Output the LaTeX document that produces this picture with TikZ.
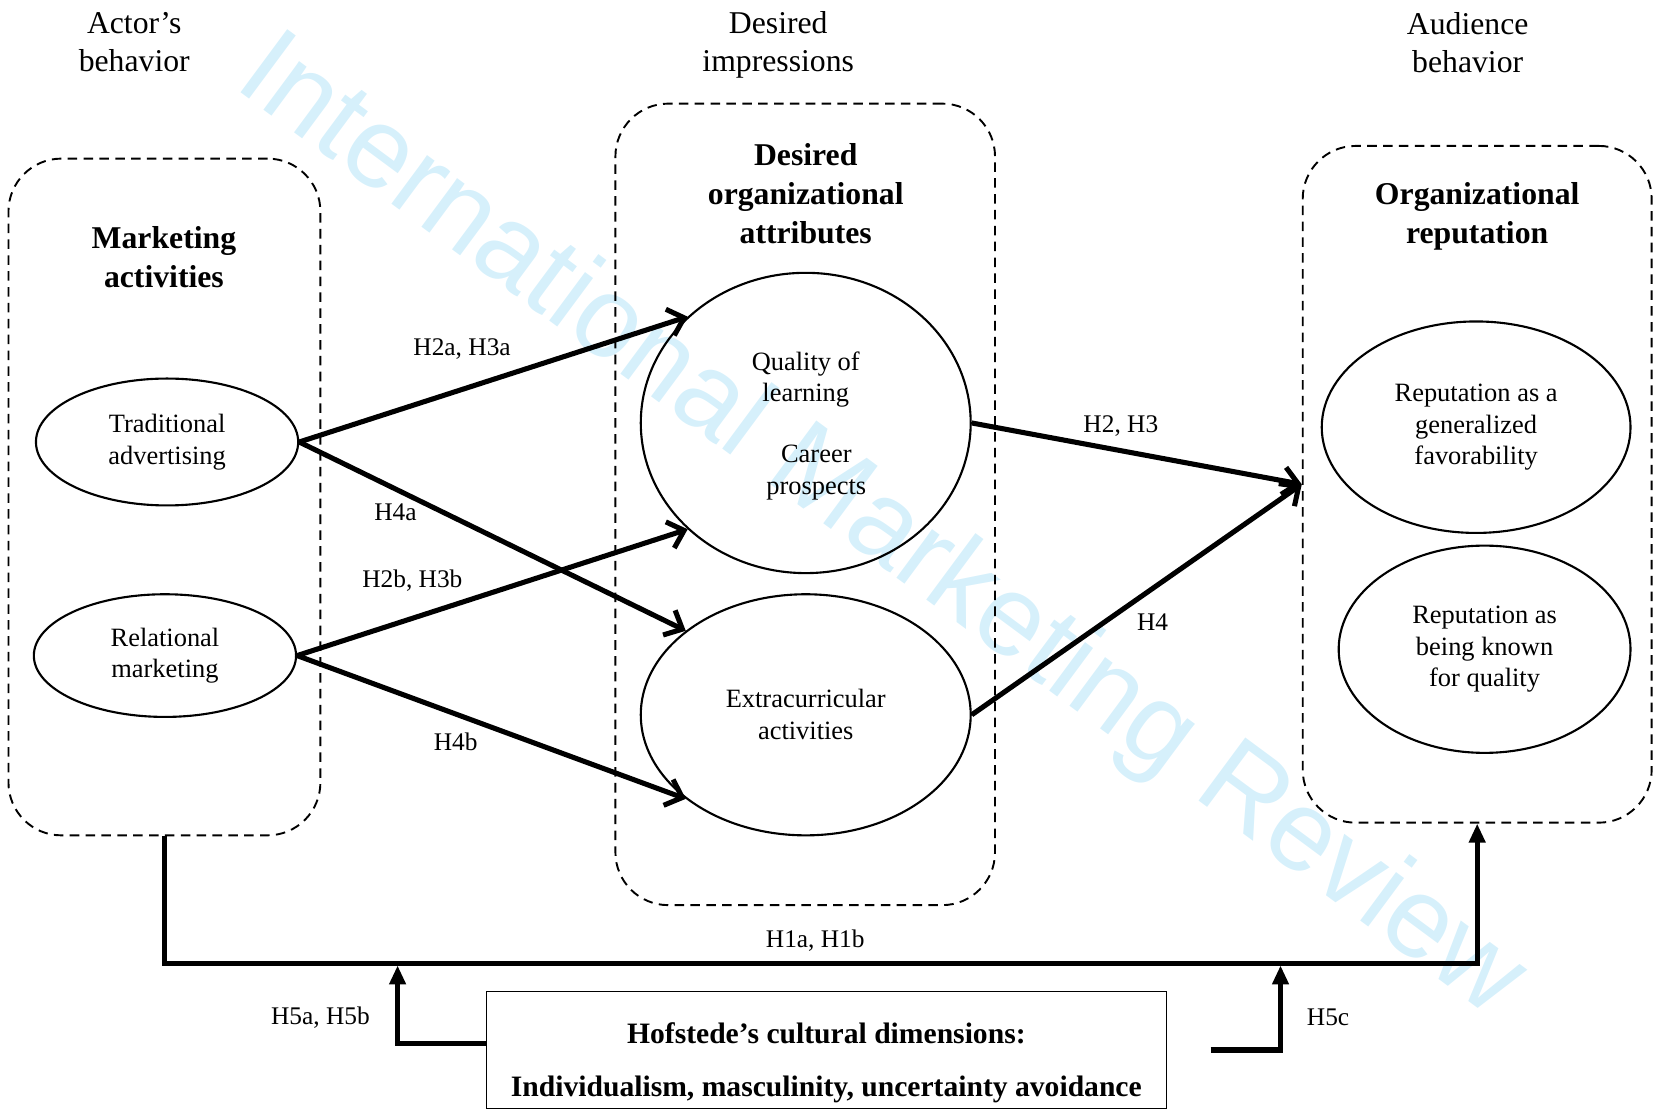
\documentclass[tikz,border=0pt]{standalone}
\usepackage{fontspec}
\setmainfont{Liberation Serif}
\newfontfamily\wmfont{Liberation Sans}
\usepackage{tikz}
\usetikzlibrary{arrows.meta, shapes.geometric}
\definecolor{wmblue}{RGB}{214,240,251}

\begin{document}
\begin{tikzpicture}[
    x=1pt, y=1pt,
    every node/.style={font=\fontsize{25}{30}\selectfont, align=center, inner sep=0pt},
    title/.style={font=\fontsize{30}{36}\selectfont},
    head/.style={font=\fontsize{30}{37}\selectfont\bfseries},
    hyp/.style={font=\fontsize{24}{28}\selectfont},
    group/.style={rectangle, draw, dash pattern=on 9pt off 6pt, line width=1.8pt, rounded corners=50pt},
    factor/.style={ellipse, draw, line width=2pt},
    arrow/.style={line width=4.8pt, -{Straight Barb[length=14pt, width=26pt]}},
    link/.style={line width=4.8pt, -{Triangle[length=18pt, width=15pt]}}
  ]

  \useasboundingbox (0,0) rectangle (1568,-1051);

  % watermark
  \node[font=\wmfont\fontsize{108}{108}\selectfont, text=wmblue, rotate=-36.5] (wm) at (832,-500) {International Marketing Review};

  \node[title] (actor) at (127,-40) {Actor's\\behavior};
  \node[title] (impr) at (736,-42) {Desired\\impressions};
  \node[title] (aud) at (1388,-40) {Audience\\behavior};

  \node[group, minimum width=295pt, minimum height=640pt] (mkt) at (155.5,-470) {};
  \node[group, minimum width=359pt, minimum height=758pt] (doa) at (761.5,-477) {};
  \node[group, minimum width=330pt, minimum height=640pt] (rep) at (1397,-458) {};

  \node[head] (mkthead) at (155,-243) {Marketing\\activities};
  \node[head] (doahead) at (762,-183) {Desired\\organizational\\attributes};
  \node[head] (rephead) at (1397,-205) {Organizational\\reputation};

  \node[factor, minimum width=248pt, minimum height=120pt] (trad) at (158,-418) {Traditional\\advertising};
  \node[factor, minimum width=248pt, minimum height=116pt] (rel) at (156,-620) {Relational\\marketing};
  \node[factor, minimum width=312pt, minimum height=284pt] (qual) at (762,-400) {};
  \node (qol) at (762,-359) {Quality of\\learning};
  \node (car) at (772,-447) {Career\\prospects};
  \node[factor, minimum width=312pt, minimum height=228pt] (extra) at (762,-676) {Extracurricular\\activities};
  \node[factor, minimum width=292pt, minimum height=200pt] (gen) at (1396,-404) {Reputation as a\\generalized\\favorability};
  \node[factor, minimum width=276pt, minimum height=196pt] (known) at (1404,-614) {Reputation as\\being known\\for quality};

  \draw[arrow] (trad.east) -- (qual.138);
  \draw[arrow] (trad.east) -- (extra.145);
  \draw[arrow] (rel.east) -- (qual.222);
  \draw[arrow] (rel.east) -- (extra.215);
  \draw[arrow] (qual.east) -- (rep.west);
  \draw[arrow] (extra.east) -- (rep.west);

  \node[hyp] (h23a) at (437,-330) {H2a, H3a};
  \node[hyp] (h4a) at (374,-484) {H4a};
  \node[hyp] (h23b) at (390,-549) {H2b, H3b};
  \node[hyp] (h4b) at (431,-702) {H4b};
  \node[hyp] (h23) at (1060,-403) {H2, H3};
  \node[hyp] (h4) at (1090,-588) {H4};

  \node[draw, line width=1.2pt, minimum width=643pt, minimum height=110pt] (hof) at (781.5,-993) {};
  \node[anchor=base, font=\fontsize{28}{34}\selectfont\bfseries] (hoft) at (781.5,-987) {Hofstede's cultural dimensions:};
  \node[anchor=base, font=\fontsize{28}{34}\selectfont\bfseries] (hofd) at (781.5,-1037) {Individualism, masculinity, uncertainty avoidance};

  \coordinate (j1) at (376,-911);
  \coordinate (j2) at (1211,-911);
  \coordinate (h5c) at (1145,-993);

  \draw[link] (mkt.south) |- (j1) -- (j2) -| (rep.south);
  \draw[link, shorten >=2pt] ([yshift=6pt]hof.west) -| (j1);
  \draw[link, shorten >=2pt] (h5c) -| (j2);

  \node[hyp] (h1) at (771,-890) {H1a, H1b};
  \node[hyp] (h5ab) at (303,-962) {H5a, H5b};
  \node[hyp] (h5cl) at (1256,-962) {H5c};

\end{tikzpicture}
\end{document}
